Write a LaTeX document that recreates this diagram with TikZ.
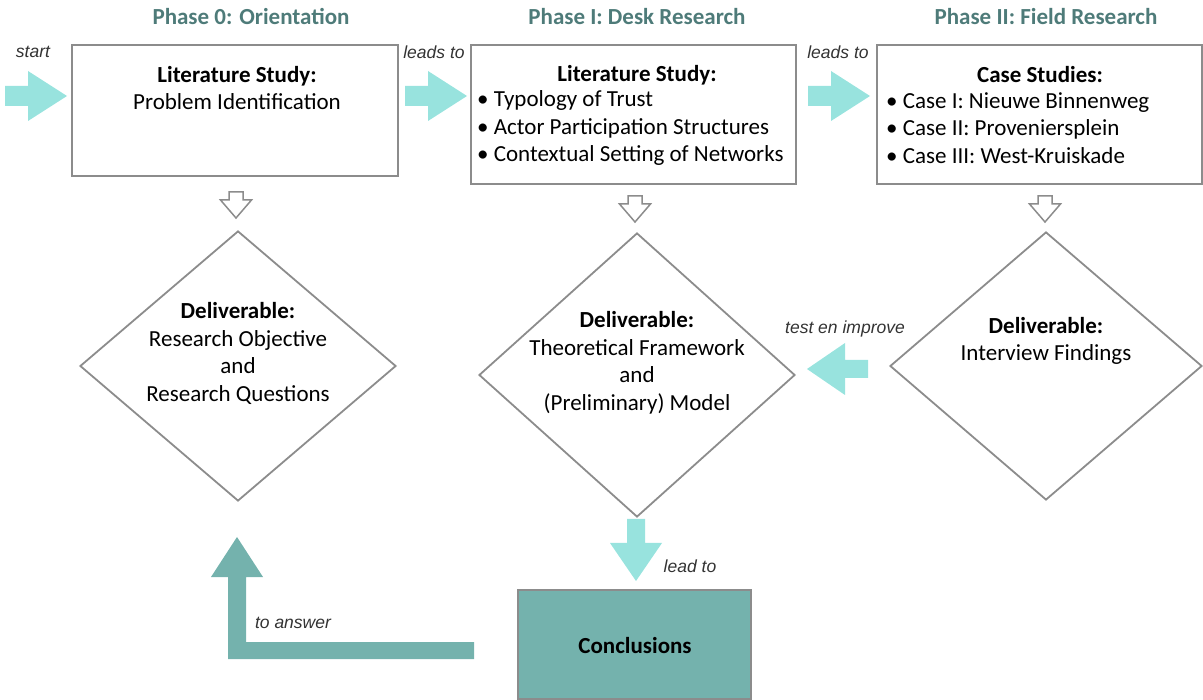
\documentclass[tikz,border=0pt]{standalone}
\usepackage{fontspec}
\setmainfont{Carlito}
\newfontfamily\labelfont{Liberation Sans}
\usetikzlibrary{shapes.geometric}

\definecolor{phasecol}{HTML}{4E7B79}
\definecolor{lightteal}{HTML}{98E3DE}
\definecolor{darkteal}{HTML}{74B2AD}
\definecolor{framegray}{HTML}{8C8C8C}

\begin{document}
\begin{tikzpicture}[x=1pt,y=-1pt]
  \tikzset{phase/.style={text=phasecol,font=\fontsize{23}{27}\selectfont\bfseries},
    stepbox/.style 2 args={draw=framegray,line width=1.8pt,minimum width=#1,minimum height=#2,inner sep=0pt},
    deliverable/.style={draw=framegray,line width=1.8pt,diamond,minimum width=316pt,minimum height=270pt,inner sep=0pt},
    boxtext/.style={font=\fontsize{23}{27.5}\selectfont,inner sep=0pt,align=#1},
    boxtext/.default=center,
    flowlabel/.style={font=\labelfont\itshape\fontsize{17.5}{20}\selectfont,text=black!80},
    lightarrow/.style={fill=lightteal},
    openarrow/.style={draw=framegray,line width=1.5pt,fill=white,line join=miter}}

  \useasboundingbox (0,0) rectangle (1203,700);

  % phase headers
  \node [phase] (phase0) at (251,17) {Phase 0: Orientation};
  \node [phase] (phase1) at (637,17) {Phase I: Desk Research};
  \node [phase] (phase2) at (1046,17) {Phase II: Field Research};

  % top row
  \node [stepbox={326pt}{131pt}] (orient) at (235,110.5) {};
  \node [stepbox={325pt}{139pt}] (desk) at (633.5,114.5) {};
  \node [stepbox={325pt}{139pt}] (field) at (1039.5,114.5) {};

  \node [boxtext] (orienttext) at (237,88) {\textbf{Literature Study:}\\Problem Identification};
  \node [boxtext] (desktitle) at (637,75) {\textbf{Literature Study:}};
  \node [boxtext=left,anchor=west] (desklist) at (477,128) {• Typology of Trust\\• Actor Participation Structures\\• Contextual Setting of Networks};
  \node [boxtext] (fieldtitle) at (1040,75) {\textbf{Case Studies:}};
  \node [boxtext=left,anchor=west] (fieldlist) at (886,128) {• Case I: Nieuwe Binnenweg\\• Case II: Proveniersplein\\• Case III: West-Kruiskade};

  % deliverables
  \node [deliverable] (resq) at (238,366) {};
  \node [deliverable,minimum height=284pt] (frame) at (637,375) {};
  \node [deliverable,minimum width=312pt,minimum height=268pt] (findings) at (1046,366) {};

  \node [boxtext] (resqtext) at (238,353.5) {\textbf{Deliverable:}\\Research Objective\\and\\Research Questions};
  \node [boxtext] (frametext) at (637,363) {\textbf{Deliverable:}\\Theoretical Framework\\and\\(Preliminary) Model};
  \node [boxtext] (findingstext) at (1046,341) {\textbf{Deliverable:}\\Interview Findings};

  % conclusions
  \node [stepbox={233pt}{109pt},fill=darkteal] (concl) at (634.5,644.5) {};
  \node [boxtext] (concltext) at (635,646) {\textbf{Conclusions}};

  % block arrows
  \foreach \x in {5,405,808}
    \fill [lightarrow] (\x,86) -- ({\x+23},86) -- ({\x+23},71) -- ({\x+62},96) -- ({\x+23},121) -- ({\x+23},106) -- (\x,106) -- cycle;
  \fill [lightarrow] (868,360) -- (845,360) -- (845,343) -- (807,369) -- (845,395) -- (845,378) -- (868,378) -- cycle;
  \fill [lightarrow] (627,519) -- (645,519) -- (645,543) -- (662,543) -- (636,581) -- (610,543) -- (627,543) -- cycle;
  \fill [darkteal] (474,642) -- (246,642) -- (246,577) -- (263,577) -- (237,537) -- (211,577) -- (228,577) -- (228,659) -- (474,659) -- cycle;

  \foreach \x/\y in {236/192,635/196,1045/196}
    \draw [openarrow] ({\x-7},\y) -- ({\x+7},\y) -- ({\x+7},{\y+8}) -- ({\x+15.5},{\y+8}) -- (\x,{\y+26}) -- ({\x-15.5},{\y+8}) -- ({\x-7},{\y+8}) -- cycle;

  % labels
  \node [flowlabel] (startlbl) at (33,52) {start};
  \node [flowlabel] (leads1) at (434,52) {leads to};
  \node [flowlabel] (leads2) at (838,52) {leads to};
  \node [flowlabel] (testlbl) at (845,329) {test en improve};
  \node [flowlabel] (leadlbl) at (690,566) {lead to};
  \node [flowlabel] (answerlbl) at (293,623) {to answer};
\end{tikzpicture}
\end{document}
